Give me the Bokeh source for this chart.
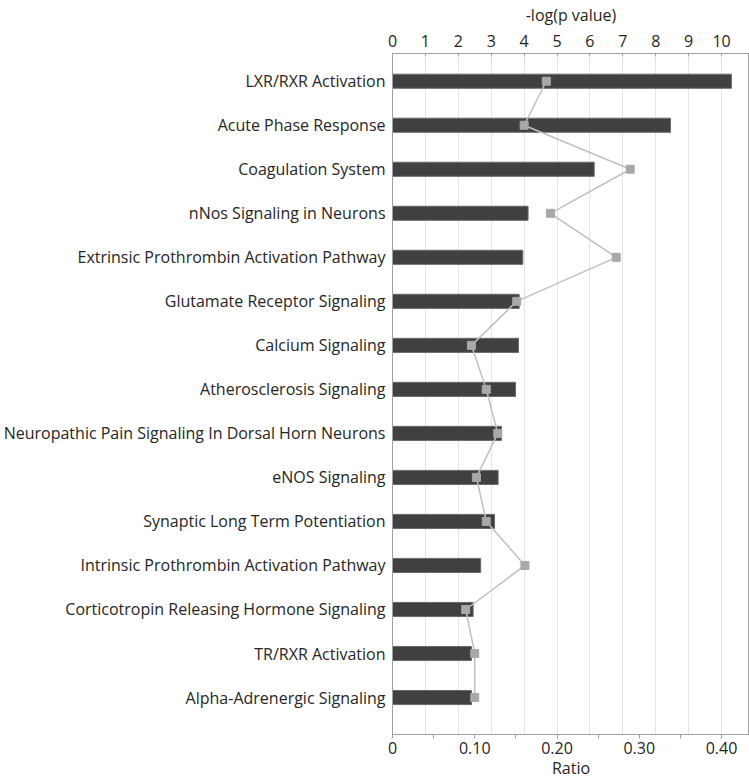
from bokeh.plotting import figure
from bokeh.models import Range1d, LinearAxis, FixedTicker, CustomJSTickFormatter, ColumnDataSource
from bokeh.embed import file_html
from bokeh.resources import INLINE

pathways = [
    "LXR/RXR Activation",
    "Acute Phase Response",
    "Coagulation System",
    "nNos Signaling in Neurons",
    "Extrinsic Prothrombin Activation Pathway",
    "Glutamate Receptor Signaling",
    "Calcium Signaling",
    "Atherosclerosis Signaling",
    "Neuropathic Pain Signaling In Dorsal Horn Neurons",
    "eNOS Signaling",
    "Synaptic Long Term Potentiation",
    "Intrinsic Prothrombin Activation Pathway",
    "Corticotropin Releasing Hormone Signaling",
    "TR/RXR Activation",
    "Alpha-Adrenergic Signaling",
]
neg_log_p = [10.3, 8.45, 6.13, 4.12, 3.96, 3.85, 3.83, 3.74, 3.31, 3.21, 3.10, 2.68, 2.45, 2.40, 2.40]
ratio = [0.187, 0.160, 0.289, 0.192, 0.272, 0.151, 0.096, 0.114, 0.128, 0.102, 0.114, 0.161, 0.089, 0.100, 0.100]
top_ticks = [0, 1, 2, 3, 4, 5, 6, 7, 8, 9, 10]
ratio_ticks = [0, 0.10, 0.20, 0.30, 0.40]
ratio_minor = [0.05, 0.15, 0.25, 0.35]

n = len(pathways)
ypos = [n - 1 - i for i in range(n)]
src = ColumnDataSource(dict(y=ypos, p=neg_log_p, r=ratio))

FONT = "Open Sans"
TXT = "#262626"
AX = "#a0a0a0"

p = figure(width=749, height=781, output_backend="svg", toolbar_location=None,
           x_axis_location="above", x_range=Range1d(0, 10.85),
           y_range=Range1d(-0.84, n - 1 + 0.63),
           min_border_left=392, min_border_right=0, min_border_top=52, min_border_bottom=44)
p.extra_x_ranges = {"ratio": Range1d(0, 10.85 * 0.04)}

p.outline_line_color = AX
p.background_fill_color = "white"

# top axis
xa = p.xaxis[0]
xa.ticker = FixedTicker(ticks=top_ticks)
xa.axis_label = "-log(p value)"
xa.axis_label_text_font = FONT
xa.axis_label_text_font_size = "16px"
xa.axis_label_text_font_style = "normal"
xa.axis_label_text_color = TXT
xa.axis_label_standoff = 6
xa.major_label_text_font = FONT
xa.major_label_text_font_size = "16px"
xa.major_label_text_color = TXT
xa.major_label_standoff = 7
xa.major_tick_out = 0
xa.major_tick_in = 3
xa.minor_tick_out = 0
xa.minor_tick_in = 0
xa.axis_line_color = AX
xa.major_tick_line_color = AX

# bottom ratio axis
ra = LinearAxis(x_range_name="ratio",
                ticker=FixedTicker(ticks=ratio_ticks, minor_ticks=ratio_minor),
                formatter=CustomJSTickFormatter(code="return tick == 0 ? '0' : tick.toFixed(2);"))
ra.axis_label = "Ratio"
ra.axis_label_text_font = FONT
ra.axis_label_text_font_size = "16px"
ra.axis_label_text_font_style = "normal"
ra.axis_label_text_color = TXT
ra.axis_label_standoff = 0
ra.major_label_text_font = FONT
ra.major_label_text_font_size = "16px"
ra.major_label_text_color = TXT
ra.major_label_standoff = 3
ra.major_tick_out = 4
ra.major_tick_in = 0
ra.minor_tick_out = 4
ra.minor_tick_in = 0
ra.axis_line_color = AX
ra.major_tick_line_color = AX
ra.minor_tick_line_color = AX
p.add_layout(ra, "below")

# left category axis
ya = p.yaxis[0]
ya.ticker = FixedTicker(ticks=ypos)
ya.major_label_overrides = {y: name for y, name in zip(ypos, pathways)}
ya.major_label_text_font = FONT
ya.major_label_text_font_size = "16px"
ya.major_label_text_color = TXT
ya.major_label_standoff = 7
ya.major_tick_out = 0
ya.major_tick_in = 0
ya.minor_tick_out = 0
ya.minor_tick_in = 0
ya.axis_line_color = AX

p.xgrid.grid_line_color = "#e4e4e4"
p.xgrid.ticker = FixedTicker(ticks=top_ticks)
p.ygrid.grid_line_color = None

p.hbar(y="y", right="p", left=0, height=0.32, source=src,
       fill_color="#404040", line_color="#6a6a6a", line_width=1)
p.line(x="r", y="y", source=src, x_range_name="ratio", line_color="#c0c0c0", line_width=1.5)
p.scatter(x="r", y="y", source=src, x_range_name="ratio", marker="square", size=8,
          fill_color="#a8a8a8", line_color="#a8a8a8")

open("out.html", "w").write(file_html(p, INLINE))
